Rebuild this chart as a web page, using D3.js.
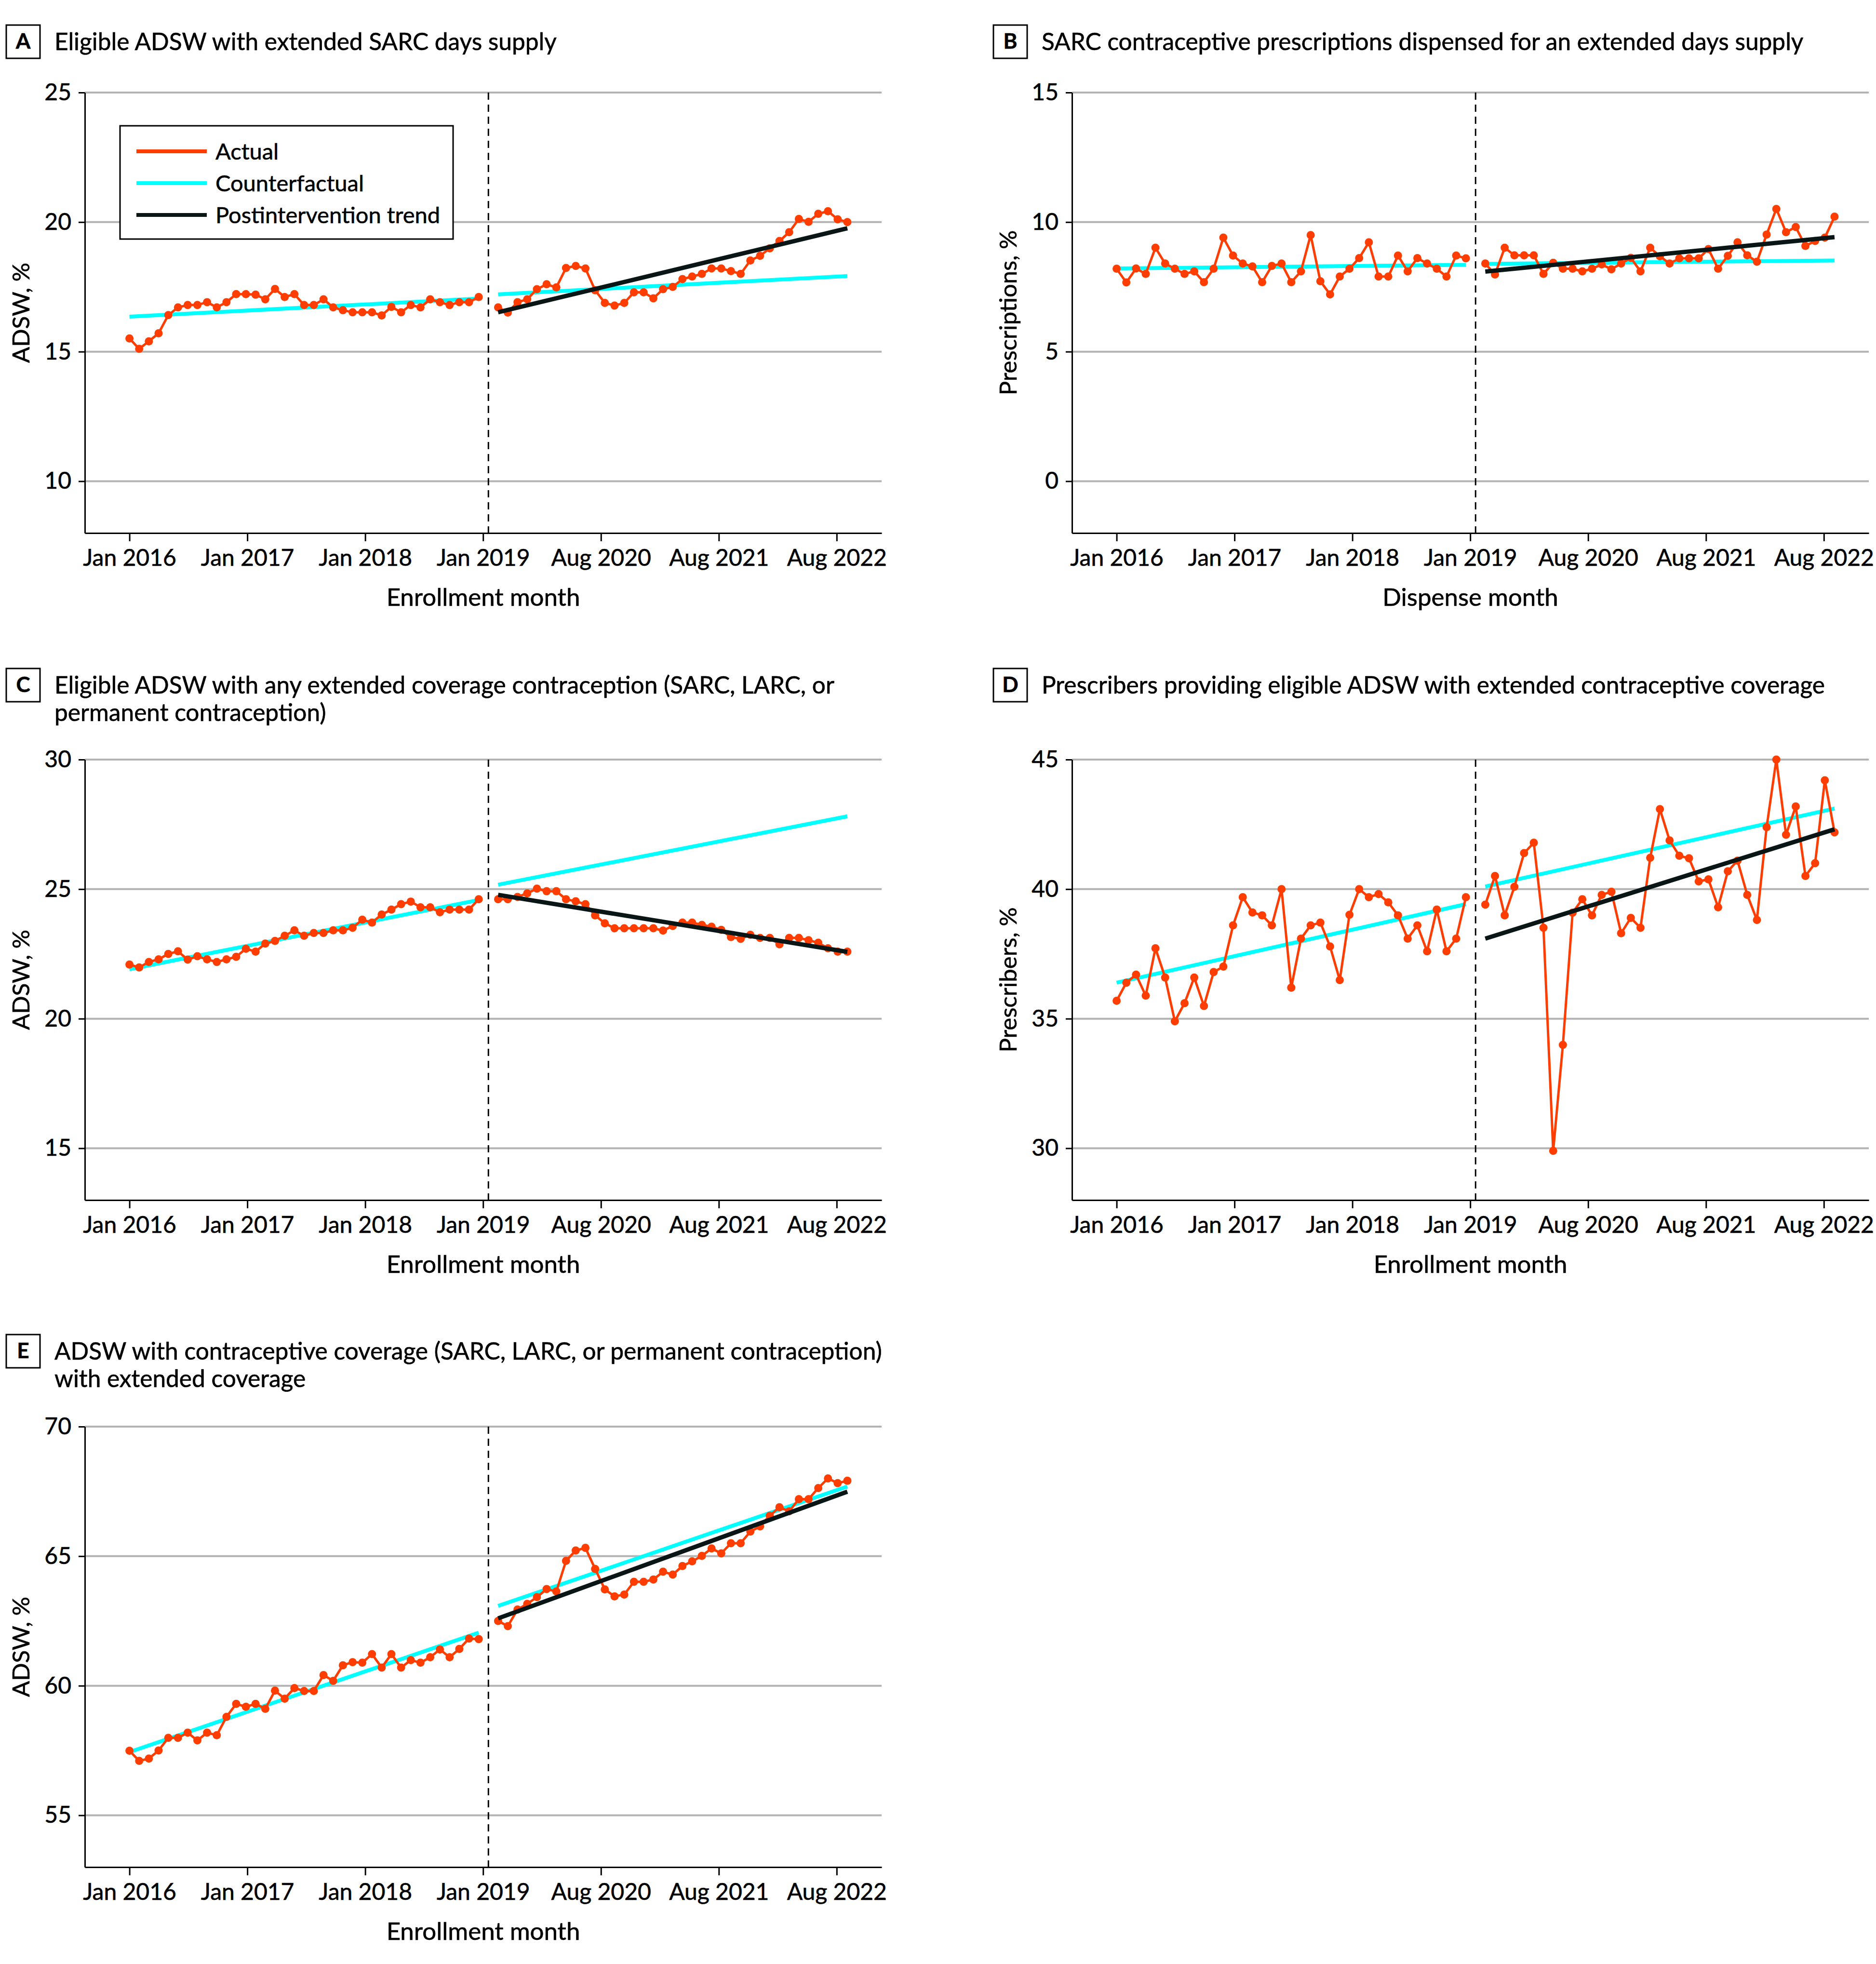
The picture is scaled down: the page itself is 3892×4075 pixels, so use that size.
<!DOCTYPE html>
<html><head><meta charset="utf-8">
<script src="https://cdn.jsdelivr.net/npm/d3@7"></script>
<style>
body{margin:0;background:#fff}
text{font-family:Lato,"Noto Sans",sans-serif;fill:#000;stroke:#000;stroke-width:0.6px}
</style>
</head><body>
<svg id="chart" width="3892" height="4075"></svg>
<script>
// ---------- data ----------
const xTickLabels = ["Jan 2016","Jan 2017","Jan 2018","Jan 2019","Aug 2020","Aug 2021","Aug 2022"];
const xTickIndex  = [0, 12.15, 24.3, 36.45, 48.6, 60.75, 72.9];
const preMonths  = d3.range(0, 37);   // month index, pre-intervention
const postMonths = d3.range(38, 75);  // month index, post-intervention
const interventionMonth = 37;

const aPre  = [15.51,15.11,15.40,15.71,16.41,16.71,16.80,16.80,16.91,16.71,16.91,17.22,17.22,17.20,17.02,17.42,17.11,17.22,16.80,16.80,17.02,16.71,16.60,16.52,16.52,16.52,16.40,16.73,16.52,16.80,16.71,17.02,16.91,16.80,16.91,16.91,17.11];
const aPost = [16.71,16.51,16.91,17.02,17.41,17.60,17.48,18.23,18.31,18.21,17.37,16.88,16.78,16.88,17.29,17.29,17.06,17.41,17.50,17.80,17.90,18.00,18.21,18.21,18.11,18.00,18.52,18.70,18.99,19.27,19.61,20.12,20.01,20.32,20.42,20.11,20.00];
const aCfPre = [16.35,17.05], aCfPost = [17.21,17.92], aTrend = [16.52,19.76];

const bPre  = [8.20,7.67,8.21,8.00,9.01,8.40,8.20,8.00,8.10,7.68,8.20,9.40,8.71,8.40,8.29,7.68,8.31,8.40,7.68,8.10,9.50,7.72,7.21,7.90,8.20,8.61,9.22,7.90,7.90,8.71,8.10,8.61,8.40,8.20,7.90,8.71,8.60];
const bPost = [8.40,7.98,9.01,8.72,8.72,8.72,8.00,8.43,8.20,8.20,8.10,8.20,8.37,8.18,8.40,8.62,8.10,9.01,8.68,8.40,8.60,8.60,8.60,8.96,8.20,8.70,9.22,8.72,8.47,9.52,10.51,9.61,9.81,9.08,9.27,9.40,10.21];
const bCfPre = [8.21,8.35], bCfPost = [8.39,8.52], bTrend = [8.09,9.42];

const cPre  = [22.09,21.98,22.19,22.29,22.50,22.60,22.28,22.41,22.29,22.19,22.29,22.39,22.70,22.59,22.90,23.00,23.20,23.41,23.20,23.31,23.31,23.41,23.41,23.51,23.82,23.71,24.02,24.21,24.42,24.52,24.30,24.30,24.11,24.21,24.21,24.21,24.61];
const cPost = [24.61,24.61,24.70,24.84,25.02,24.92,24.92,24.61,24.53,24.42,23.99,23.68,23.49,23.49,23.49,23.49,23.49,23.40,23.58,23.71,23.71,23.62,23.55,23.43,23.15,23.08,23.24,23.12,23.12,22.87,23.12,23.12,23.03,22.93,22.72,22.59,22.59];
const cCfPre = [21.91,24.58], cCfPost = [25.17,27.81], cTrend = [24.78,22.58];

const dPre  = [35.69,36.39,36.70,35.89,37.72,36.59,34.90,35.60,36.59,35.49,36.80,37.01,38.60,39.69,39.10,38.99,38.60,40.00,36.20,38.09,38.60,38.71,37.79,36.49,39.01,40.00,39.69,39.81,39.49,38.99,38.09,38.60,37.60,39.21,37.60,38.09,39.69];
const dPost = [39.40,40.51,38.99,40.09,41.39,41.79,38.51,29.90,33.99,39.09,39.61,38.99,39.78,39.90,38.30,38.89,38.51,41.21,43.09,41.88,41.29,41.19,40.30,40.38,39.30,40.69,41.10,39.78,38.81,42.39,45.00,42.10,43.19,40.51,41.00,44.20,42.19];
const dCfPre = [36.39,39.42], dCfPost = [40.10,43.11], dTrend = [38.09,42.31];

const ePre  = [57.49,57.10,57.19,57.50,57.99,57.99,58.19,57.89,58.19,58.09,58.80,59.30,59.19,59.30,59.11,59.81,59.50,59.91,59.80,59.80,60.41,60.19,60.79,60.91,60.89,61.22,60.70,61.22,60.70,60.99,60.89,61.10,61.40,61.10,61.42,61.82,61.80];
const ePost = [62.50,62.30,62.94,63.16,63.42,63.73,63.64,64.82,65.22,65.32,64.51,63.72,63.45,63.52,64.01,64.01,64.10,64.40,64.29,64.62,64.80,65.01,65.30,65.11,65.50,65.50,65.95,66.15,66.56,66.89,66.73,67.20,67.20,67.63,68.00,67.82,67.91];
const eCfPre = [57.44,62.05], eCfPost = [63.08,67.69], eTrend = [62.60,67.49];

const legendLabels = ["Actual","Counterfactual","Postintervention trend"];

const panels = [
  {letter:"A", title:["Eligible ADSW with extended SARC days supply"], yLabel:"ADSW, %", xLabel:"Enrollment month",
   yTicks:[10,15,20,25], col:0,row:0, pre:aPre, post:aPost, cfPre:aCfPre, cfPost:aCfPost, trend:aTrend, legend:true},
  {letter:"B", title:["SARC contraceptive prescriptions dispensed for an extended days supply"], yLabel:"Prescriptions, %", xLabel:"Dispense month",
   yTicks:[0,5,10,15], col:1,row:0, pre:bPre, post:bPost, cfPre:bCfPre, cfPost:bCfPost, trend:bTrend},
  {letter:"C", title:["Eligible ADSW with any extended coverage contraception (SARC, LARC, or","permanent contraception)"], yLabel:"ADSW, %", xLabel:"Enrollment month",
   yTicks:[15,20,25,30], col:0,row:1, pre:cPre, post:cPost, cfPre:cCfPre, cfPost:cCfPost, trend:cTrend},
  {letter:"D", title:["Prescribers providing eligible ADSW with extended contraceptive coverage"], yLabel:"Prescribers, %", xLabel:"Enrollment month",
   yTicks:[30,35,40,45], col:1,row:1, pre:dPre, post:dPost, cfPre:dCfPre, cfPost:dCfPost, trend:dTrend},
  {letter:"E", title:["ADSW with contraceptive coverage (SARC, LARC, or permanent contraception)","with extended coverage"], yLabel:"ADSW, %", xLabel:"Enrollment month",
   yTicks:[55,60,65,70], col:0,row:2, pre:ePre, post:ePost, cfPre:eCfPre, cfPost:eCfPost, trend:eTrend}
];

// ---------- style / layout ----------
const C_ACT = "#ff3d00", C_CF = "#00ffff", C_TR = "#0a1616", C_GRID = "#b3b3b3";
const colX = [0, 2048];
const rowY = [0, 1384, 2768];
const titleBase = [104, 1439, 2821];
const FS = 48;

const svg = d3.select("#chart");

panels.forEach(p => {
  const dx = colX[p.col], dy = rowY[p.row];
  const left = 176 + dx, right = 1829 + dx, top = 192 + dy, bottom = 1106 + dy;
  const yMax = d3.max(p.yTicks);
  const x = d3.scaleLinear().domain([-4.6, 77.53]).range([left, right]);
  const y = d3.scaleLinear().domain([yMax - 17, yMax]).range([bottom, top]);
  const g = svg.append("g");

  // title with letter box
  const tb = titleBase[p.row];
  g.append("rect").attr("x", 13 + dx).attr("y", tb - 52).attr("width", 70).attr("height", 69)
    .attr("fill", "none").attr("stroke", "#000").attr("stroke-width", 3);
  g.append("text").attr("x", 48 + dx).attr("y", tb - 3).attr("text-anchor", "middle")
    .attr("font-size", 44).attr("font-weight", "bold").text(p.letter);
  p.title.forEach((t, i) => {
    g.append("text").attr("x", 113 + dx).attr("y", tb + i * 57).attr("font-size", 49.6).text(t);
  });

  // gridlines
  g.selectAll(".grid").data(p.yTicks).join("line")
    .attr("x1", left).attr("x2", right).attr("y1", d => y(d)).attr("y2", d => y(d))
    .attr("stroke", C_GRID).attr("stroke-width", 4);

  // axes
  const ya = g.append("g").attr("transform", `translate(${left},0)`)
    .call(d3.axisLeft(y).tickValues(p.yTicks).tickSize(13).tickSizeOuter(0).tickPadding(15).tickFormat(d3.format("d")));
  const xa = g.append("g").attr("transform", `translate(0,${bottom})`)
    .call(d3.axisBottom(x).tickValues(xTickIndex).tickSize(17).tickSizeOuter(0).tickPadding(17)
      .tickFormat((d, i) => xTickLabels[i]));
  [ya, xa].forEach(a => {
    a.attr("font-family", null).attr("font-size", null);
    a.selectAll("text").attr("font-size", FS).attr("fill", "#000");
    a.selectAll("line").attr("stroke", "#000").attr("stroke-width", 3);
    a.select(".domain").attr("stroke", "#000").attr("stroke-width", 3);
  });

  // axis titles
  g.append("text").attr("x", (left + right) / 2).attr("y", bottom + 151).attr("text-anchor", "middle")
    .attr("font-size", 51).text(p.xLabel);
  g.append("text").attr("transform", `translate(${42 + dx},${(top + bottom) / 2}) rotate(-90)`)
    .attr("text-anchor", "middle").attr("dominant-baseline", "central").attr("font-size", 49).text(p.yLabel);

  // intervention line
  g.append("line").attr("x1", x(interventionMonth)).attr("x2", x(interventionMonth))
    .attr("y1", top).attr("y2", bottom).attr("stroke", "#000").attr("stroke-width", 3)
    .attr("stroke-dasharray", "15,10");

  const seg = (xs, vals) => [[xs[0], vals[0]], [xs[xs.length - 1], vals[1]]];
  const line = d3.line().x(d => x(d[0])).y(d => y(d[1]));

  // counterfactual
  [seg(preMonths, p.cfPre), seg(postMonths, p.cfPost)].forEach(s => {
    g.append("path").attr("d", line(s)).attr("fill", "none").attr("stroke", C_CF).attr("stroke-width", 8);
  });

  // actual
  [[preMonths, p.pre], [postMonths, p.post]].forEach(([xs, vs]) => {
    const pts = xs.map((m, i) => [m, vs[i]]);
    g.append("path").attr("d", line(pts)).attr("fill", "none").attr("stroke", C_ACT)
      .attr("stroke-width", 5).attr("stroke-linejoin", "round");
    g.selectAll(null).data(pts).join("circle").attr("cx", d => x(d[0])).attr("cy", d => y(d[1]))
      .attr("r", 8.5).attr("fill", C_ACT);
  });

  // postintervention trend
  g.append("path").attr("d", line(seg(postMonths, p.trend))).attr("fill", "none")
    .attr("stroke", C_TR).attr("stroke-width", 9);

  // legend
  if (p.legend) {
    g.append("rect").attr("x", 249).attr("y", 261).attr("width", 691).attr("height", 235)
      .attr("fill", "#fff").attr("stroke", "#000").attr("stroke-width", 3);
    const cols = [C_ACT, C_CF, C_TR];
    const ly = [314, 380, 446];
    legendLabels.forEach((lab, i) => {
      g.append("line").attr("x1", 283).attr("x2", 429).attr("y1", ly[i]).attr("y2", ly[i])
        .attr("stroke", cols[i]).attr("stroke-width", 8);
      g.append("text").attr("x", 447).attr("y", ly[i] + 17).attr("font-size", 47).text(lab);
    });
  }
});
</script>
</body></html>
